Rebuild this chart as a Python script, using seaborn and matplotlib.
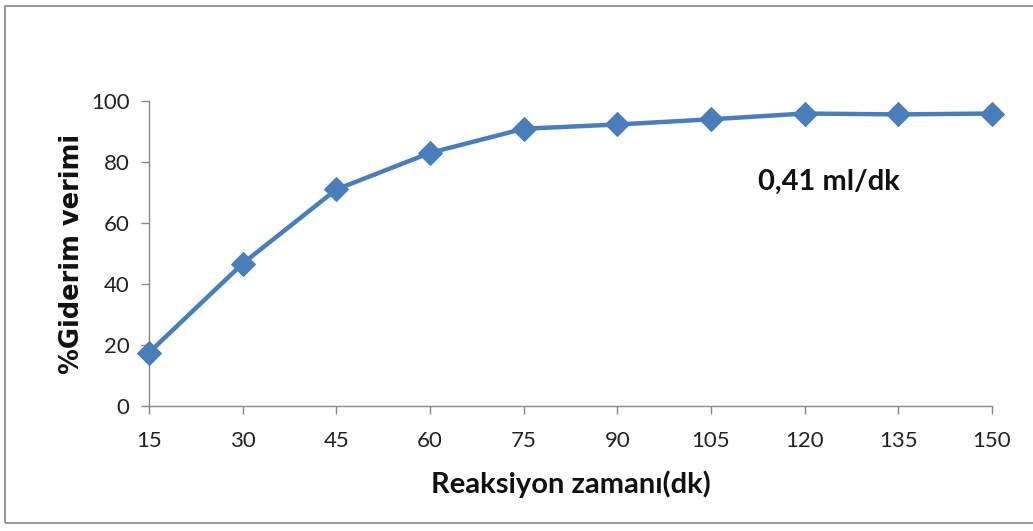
import matplotlib
matplotlib.use("Agg")
import matplotlib.pyplot as plt
import seaborn as sns
import pandas as pd
from matplotlib.patches import Rectangle

time_min = [15, 30, 45, 60, 75, 90, 105, 120, 135, 150]
removal_pct = [17.5, 46.7, 71.0, 83.0, 90.9, 92.3, 94.0, 95.9, 95.6, 95.9]
y_ticks = [0, 20, 40, 60, 80, 100]
annotation = "0,41 ml/dk"
x_label = "Reaksiyon zamanı(dk)"
y_label = "%Giderim verimi"

df = pd.DataFrame({"t": time_min, "v": removal_pct})

sns.set_theme(style="white")
plt.rcParams["font.family"] = ["Lato", "DejaVu Sans"]

fig = plt.figure(figsize=(10.33, 5.31), dpi=100)
ax = fig.add_axes([149/1033, 1 - 406/531, (992-149)/1033, (406-101)/531])

color = "#4A7EBB"
sns.lineplot(data=df, x="t", y="v", ax=ax, color=color, linewidth=3.2,
             marker="D", markersize=12, markeredgecolor=color, markerfacecolor=color,
             clip_on=False, zorder=5)

ax.set_xlim(15, 150)
ax.set_ylim(0, 100)
ax.set_xticks(time_min)
ax.set_xticklabels([str(t) for t in time_min], fontsize=16, color="#222222")
ax.set_yticks(y_ticks)
ax.set_yticklabels([str(v) for v in y_ticks], fontsize=16, color="#222222")
ax.tick_params(axis="both", which="both", direction="out", length=6, width=1, color="#888888",
               bottom=True, left=True)
ax.tick_params(axis="x", pad=12)
ax.tick_params(axis="y", pad=8)

for s in ["top", "right"]:
    ax.spines[s].set_visible(False)
for s in ["left", "bottom"]:
    ax.spines[s].set_color("#888888")
    ax.spines[s].set_linewidth(1)

ax.set_xlabel(x_label, fontsize=21, fontweight="bold", color="#111111", labelpad=14)
ax.set_ylabel(y_label, fontsize=18.5, fontweight="bold", color="#111111", labelpad=4,
              family="DejaVu Sans")

ax.text(0.807, 0.735, annotation, transform=ax.transAxes, fontsize=21, fontweight="bold",
        ha="center", va="center", color="#111111")

fig.patches.append(Rectangle((5/1033, 8/531), 1.1, 1 - 14/531, transform=fig.transFigure,
                             fill=False, edgecolor="#888888", linewidth=1.2))

fig.savefig("out.png", dpi=100)
